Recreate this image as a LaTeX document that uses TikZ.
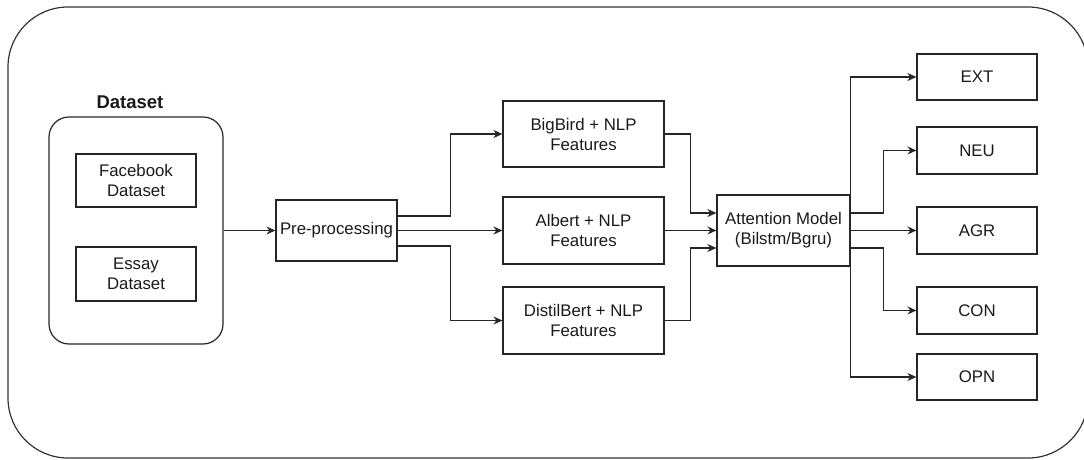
\documentclass[tikz,border=0pt]{standalone}
\usepackage{fontspec}
\setmainfont{Liberation Sans}
\usetikzlibrary{arrows.meta}
\begin{document}
\begin{tikzpicture}[x=1pt,y=-1pt,
  box/.style={draw=black!85,line width=1.2pt,rectangle,align=center,inner sep=1pt,
    font=\fontsize{16.8}{20}\selectfont,text=black!90},
  arr/.style={draw=black!85,line width=1.2pt,-{Stealth[length=9pt,width=8pt]}}]
\useasboundingbox (0,0) rectangle (1084,460);
\draw[black!80,line width=1.2pt,rounded corners=60] (8,7) rectangle (1088,458);
% dataset group
\node[box,rounded corners=20,minimum width=174,minimum height=227] (dsc) at (136,230.5) {};
\node[font=\bfseries\fontsize{18.5}{22}\selectfont,text=black!90] (dlabel) at (130,102) {Dataset};
\node[box,minimum width=120,minimum height=53] (fb) at (136,180.5) {Facebook\\Dataset};
\node[box,minimum width=120,minimum height=54] (essay) at (136,274) {Essay\\Dataset};
\node[box,minimum width=121,minimum height=61] (pre) at (336.5,230.5) {Pre-processing};
\node[box,minimum width=161,minimum height=66] (bigbird) at (583.5,134) {BigBird + NLP\\Features};
\node[box,minimum width=161,minimum height=67] (albert) at (583.5,230.5) {Albert + NLP\\Features};
\node[box,minimum width=161,minimum height=67] (distil) at (583.5,320.5) {DistilBert + NLP\\Features};
\node[box,minimum width=133,minimum height=71] (att) at (783.5,230.5) {Attention Model\\(Bilstm/Bgru)};
\node[box,minimum width=120,minimum height=46] (ext) at (977,77) {EXT};
\node[box,minimum width=120,minimum height=47] (neu) at (977,150.5) {NEU};
\node[box,minimum width=120,minimum height=47] (agr) at (977,230.5) {AGR};
\node[box,minimum width=120,minimum height=47] (con) at (977,310.5) {CON};
\node[box,minimum width=120,minimum height=46] (opn) at (977,377) {OPN};
% connectors
\draw[arr] (dsc.east) -- (pre.west);
\draw[arr] ([yshift=14.5pt]pre.east) -- ++(53,0) |- (bigbird.west);
\draw[arr] (pre.east) -- (albert.west);
\draw[arr] ([yshift=-15.5pt]pre.east) -- ++(53,0) |- (distil.west);
\draw[arr] (bigbird.east) -- ++(26,0) |- ([yshift=17.5pt]att.west);
\draw[arr] (albert.east) -- (att.west);
\draw[arr] (distil.east) -- ++(26,0) |- ([yshift=-17.5pt]att.west);
\draw[arr] (att.north east) |- (ext.west);
\draw[arr] ([yshift=17.5pt]att.east) -- ++(33,0) |- (neu.west);
\draw[arr] (att.east) -- (agr.west);
\draw[arr] ([yshift=-17.5pt]att.east) -- ++(33,0) |- (con.west);
\draw[arr] (att.south east) |- (opn.west);
\end{tikzpicture}
\end{document}
